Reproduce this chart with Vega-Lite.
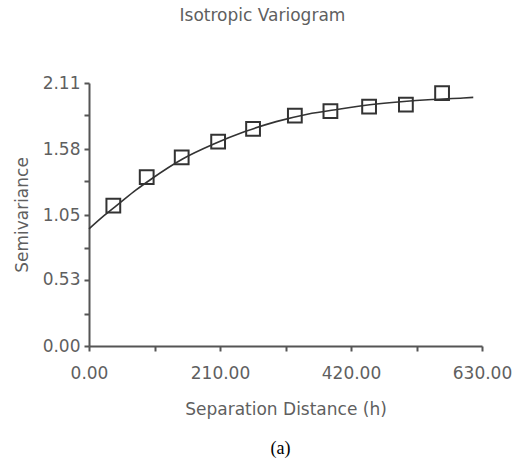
{
  "$schema": "https://vega.github.io/schema/vega-lite/v6.json",
  "background": "white",
  "padding": {"left": 13, "top": 7, "right": 2, "bottom": 4},
  "config": {
    "view": {"stroke": null},
    "font": "DejaVu Sans"
  },
  "datasets": {
    "experimental": [
      {"h": 39, "gamma": 1.126},
      {"h": 92.5, "gamma": 1.354},
      {"h": 148.6, "gamma": 1.514},
      {"h": 207, "gamma": 1.64},
      {"h": 263, "gamma": 1.742},
      {"h": 330, "gamma": 1.848},
      {"h": 387, "gamma": 1.884},
      {"h": 449, "gamma": 1.921},
      {"h": 508, "gamma": 1.937},
      {"h": 566, "gamma": 2.028}
    ],
    "model": [
      {"h": 0, "gamma": 0.94},
      {"h": 25, "gamma": 1.05},
      {"h": 50, "gamma": 1.15},
      {"h": 75, "gamma": 1.25},
      {"h": 100, "gamma": 1.34},
      {"h": 150, "gamma": 1.5},
      {"h": 200, "gamma": 1.62},
      {"h": 250, "gamma": 1.72},
      {"h": 300, "gamma": 1.8},
      {"h": 350, "gamma": 1.86},
      {"h": 400, "gamma": 1.9},
      {"h": 450, "gamma": 1.935},
      {"h": 500, "gamma": 1.96},
      {"h": 550, "gamma": 1.978},
      {"h": 600, "gamma": 1.99},
      {"h": 616, "gamma": 1.995}
    ]
  },
  "title": {
    "text": "(a)",
    "orient": "bottom",
    "anchor": "middle",
    "frame": "bounds",
    "font": "Liberation Serif",
    "fontSize": 18,
    "fontWeight": "normal",
    "color": "#000000",
    "offset": 23,
    "dx": 18
  },
  "vconcat": [
    {
      "width": 393,
      "height": 263,
      "title": {
        "text": "Isotropic Variogram",
        "anchor": "middle",
        "frame": "bounds",
        "font": "DejaVu Sans",
        "fontSize": 17,
        "fontWeight": "normal",
        "color": "#5f5f5f",
        "offset": 49
      },
      "layer": [
        {
          "data": {"name": "model"},
          "mark": {"type": "line", "color": "#333333", "strokeWidth": 1.6, "interpolate": "monotone"},
          "encoding": {
            "x": {"field": "h", "type": "quantitative"},
            "y": {"field": "gamma", "type": "quantitative"}
          }
        },
        {
          "data": {"name": "experimental"},
          "mark": {"type": "point", "shape": "square", "filled": false, "color": "#333333", "strokeWidth": 2, "size": 190, "opacity": 1},
          "encoding": {
            "x": {"field": "h", "type": "quantitative"},
            "y": {"field": "gamma", "type": "quantitative"}
          }
        }
      ],
      "resolve": {"scale": {"x": "shared", "y": "shared"}},
      "encoding": {
        "x": {
          "field": "h",
          "type": "quantitative",
          "title": "Separation Distance (h)",
          "scale": {"domain": [0, 630], "nice": false, "zero": true},
          "axis": {
            "values": [0, 105, 210, 315, 420, 525, 630],
            "labelExpr": "datum.value % 210 == 0 ? format(datum.value, '.2f') : ''",
            "grid": false,
            "domainColor": "#555555",
            "domainWidth": 2,
            "tickColor": "#555555",
            "tickWidth": 2,
            "tickSize": 5,
            "labelFont": "DejaVu Sans",
            "labelFontSize": 17,
            "labelColor": "#5f5f5f",
            "labelPadding": 14,
            "labelFlush": false,
            "labelOverlap": false,
            "titleFont": "DejaVu Sans",
            "titleFontSize": 17,
            "titleFontWeight": "normal",
            "titleColor": "#5f5f5f",
            "titlePadding": 20
          }
        },
        "y": {
          "field": "gamma",
          "type": "quantitative",
          "title": "Semivariance",
          "scale": {"domain": [0, 2.11], "nice": false, "zero": true},
          "axis": {
            "values": [0, 0.26, 0.53, 0.79, 1.05, 1.32, 1.58, 1.85, 2.11],
            "labelExpr": "indexof([0, 0.53, 1.05, 1.58, 2.11], datum.value) >= 0 ? format(datum.value, '.2f') : ''",
            "grid": false,
            "domainColor": "#555555",
            "domainWidth": 2,
            "tickColor": "#555555",
            "tickWidth": 2,
            "tickSize": 5,
            "labelFont": "DejaVu Sans",
            "labelFontSize": 17,
            "labelColor": "#5f5f5f",
            "labelPadding": 4,
            "labelOverlap": false,
            "labelFlush": false,
            "titleFont": "DejaVu Sans",
            "titleFontSize": 17,
            "titleFontWeight": "normal",
            "titleColor": "#5f5f5f",
            "titlePadding": 11
          }
        }
      }
    }
  ]
}
